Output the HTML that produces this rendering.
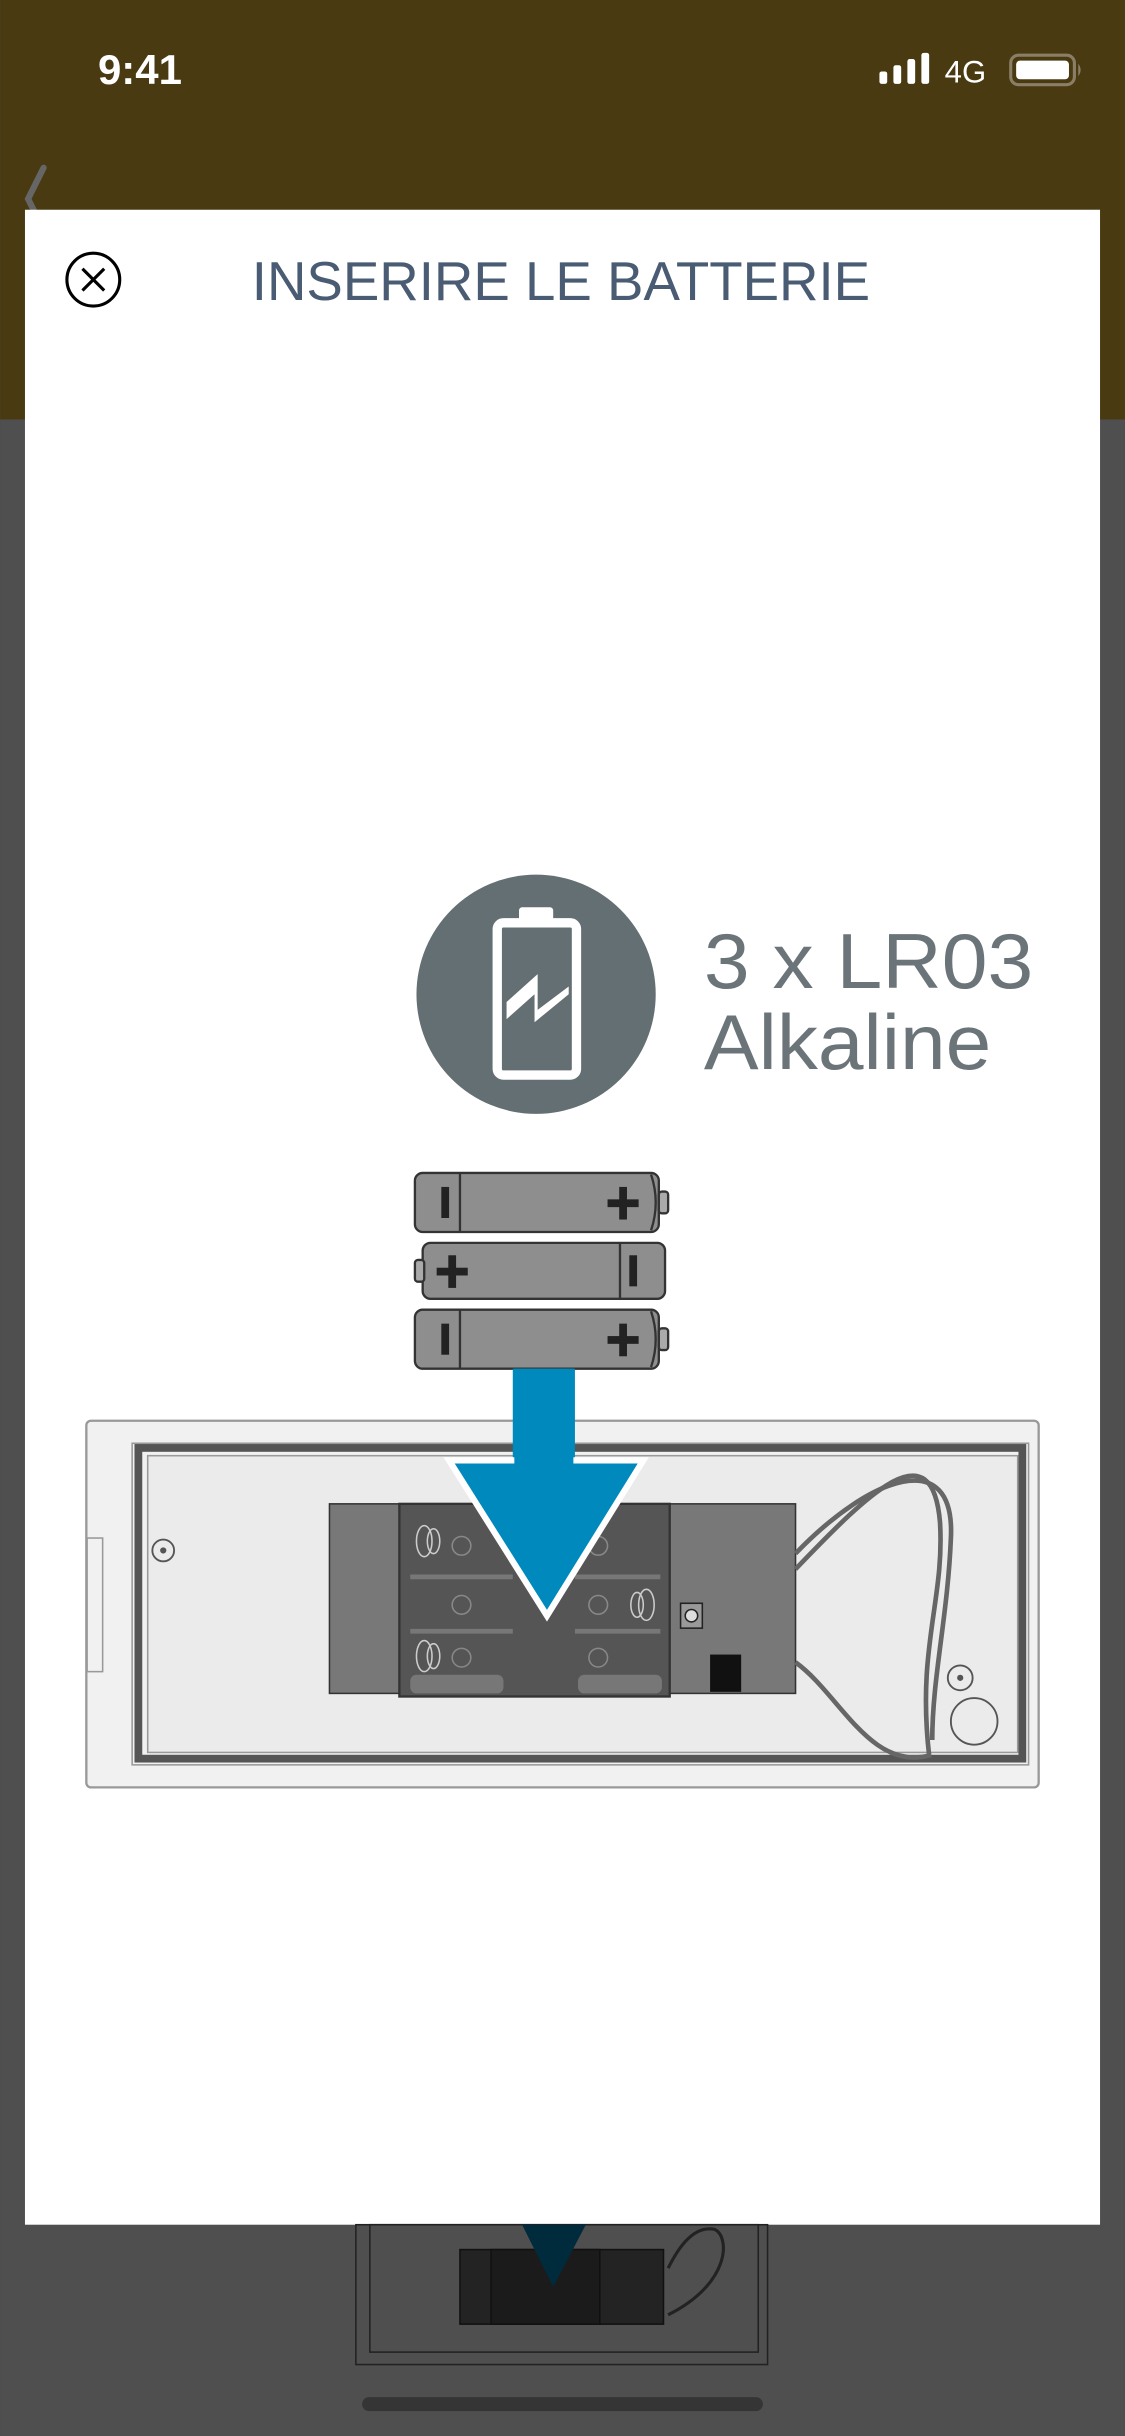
<!DOCTYPE html>
<html><head><meta charset="utf-8"><style>
html,body{margin:0;padding:0;background:#4f4f4f;}
svg{display:block;}
</style></head><body>
<svg width="1125" height="2436" viewBox="0 0 724 1568" xmlns="http://www.w3.org/2000/svg" font-family="Liberation Sans, sans-serif">
<rect x="0" y="0" width="724" height="1568" fill="#4f4f4f"/>
<rect x="0" y="0" width="724" height="270" fill="#4a3a11"/>
<text x="63" y="54" fill="#fff" font-size="27" font-weight="bold">9:41</text>
<rect x="566" y="46" width="5" height="8" rx="1.5" fill="#fff"/>
<rect x="575" y="42" width="5" height="12" rx="1.5" fill="#fff"/>
<rect x="584" y="38" width="5" height="16" rx="1.5" fill="#fff"/>
<rect x="593" y="34" width="5" height="20" rx="1.5" fill="#fff"/>
<text x="608" y="53" fill="#fff" font-size="20">4G</text>
<rect x="650.5" y="35.5" width="41" height="19" rx="5" fill="none" stroke="#8a7f66" stroke-width="2"/>
<rect x="654" y="39" width="34" height="12" rx="2.5" fill="#fff"/>
<path d="M694 41 q3 4 0 8 z" fill="#8a7f66"/>
<path d="M28 108 L18 128 L24 140" fill="none" stroke="#666" stroke-width="4" stroke-linecap="round"/>
<rect x="16" y="135" width="692" height="1297" fill="#fff"/>
<circle cx="60" cy="180" r="17" fill="none" stroke="#000" stroke-width="2"/>
<path d="M53 173 L67 187 M67 173 L53 187" stroke="#000" stroke-width="2"/>
<text x="361" y="193" text-anchor="middle" fill="#4a5c73" font-size="35" textLength="398" lengthAdjust="spacingAndGlyphs">INSERIRE LE BATTERIE</text>
<circle cx="345" cy="640" r="77" fill="#646f73"/>
<rect x="320" y="594" width="51" height="98" rx="4" fill="none" stroke="#fff" stroke-width="6"/>
<rect x="334" y="584" width="22" height="10" rx="2" fill="#fff"/>
<path d="M326 645 L346 627 L346 650 L366 635 L366 640 L344 658 L344 640 L326 656 Z" fill="#fff"/>
<text x="453" y="636" fill="#6b7579" font-size="50" textLength="212" lengthAdjust="spacingAndGlyphs">3 x LR03</text>
<text x="453" y="688" fill="#6b7579" font-size="50" textLength="185" lengthAdjust="spacingAndGlyphs">Alkaline</text>
<g stroke="#333" stroke-width="1.5">
<rect x="267" y="755" width="157" height="38" rx="5" fill="#8e8e8e"/>
<path d="M296 755 L296 793" /><path d="M419 756 q6 18 0 36" fill="#8e8e8e"/>
<rect x="424" y="767" width="6" height="14" rx="2" fill="#aaa"/>
<rect x="272" y="800" width="156" height="36" rx="5" fill="#8e8e8e"/>
<path d="M399 800 L399 836"/>
<rect x="267" y="811" width="6" height="14" rx="2" fill="#aaa"/>
<rect x="267" y="843" width="157" height="38" rx="5" fill="#8e8e8e"/>
<path d="M296 843 L296 881"/><path d="M419 844 q6 18 0 36" fill="#8e8e8e"/>
<rect x="424" y="855" width="6" height="14" rx="2" fill="#aaa"/>
</g>
<g fill="#222">
<rect x="284" y="764" width="5" height="20"/><rect x="391" y="772" width="20" height="5"/><rect x="398.5" y="764" width="5" height="21"/>
<rect x="405" y="808" width="5" height="20"/><rect x="281" y="816" width="20" height="5"/><rect x="288.5" y="808" width="5" height="21"/>
<rect x="284" y="852" width="5" height="20"/><rect x="391" y="860" width="20" height="5"/><rect x="398.5" y="852" width="5" height="21"/>
</g>
<rect x="55.5" y="914.5" width="613" height="236" rx="3" fill="#f1f1f1" stroke="#999" stroke-width="1.5"/>
<rect x="56" y="990" width="10" height="86" fill="#f1f1f1" stroke="#999" stroke-width="1"/>
<rect x="85" y="929" width="577" height="207" fill="none" stroke="#999" stroke-width="1"/>
<rect x="89" y="932" width="569" height="200" fill="none" stroke="#555" stroke-width="5"/>
<rect x="95" y="937" width="560" height="191" fill="#ebebeb" stroke="#999" stroke-width="1"/>
<circle cx="105" cy="998" r="7" fill="none" stroke="#555" stroke-width="1.2"/><circle cx="105" cy="998" r="2" fill="#555"/>
<rect x="212" y="968" width="300" height="122" fill="#787878" stroke="#333" stroke-width="1"/>
<rect x="257" y="968" width="174" height="124" fill="#555" stroke="#333" stroke-width="1.5"/>
<path d="M264 1015 L330 1015 M370 1015 L425 1015 M264 1050 L330 1050 M370 1050 L425 1050" stroke="#777" stroke-width="3"/>
<rect x="264" y="1078" width="60" height="12" rx="4" fill="#777"/><rect x="372" y="1078" width="54" height="12" rx="4" fill="#777"/>
<g fill="none" stroke="#888" stroke-width="1"><circle cx="297" cy="995" r="6"/><circle cx="297" cy="1033" r="6"/><circle cx="297" cy="1067" r="6"/><circle cx="385" cy="995" r="6"/><circle cx="385" cy="1033" r="6"/><circle cx="385" cy="1067" r="6"/></g>
<g fill="none" stroke="#ccc" stroke-width="1"><ellipse cx="273" cy="992" rx="5" ry="10"/><ellipse cx="279" cy="992" rx="4" ry="8"/><ellipse cx="273" cy="1066" rx="5" ry="10"/><ellipse cx="279" cy="1066" rx="4" ry="8"/><ellipse cx="416" cy="1033" rx="5" ry="10"/><ellipse cx="410" cy="1033" rx="4" ry="8"/></g>
<rect x="438" y="1032" width="14" height="16" fill="#999" stroke="#222"/><circle cx="445" cy="1040" r="4" fill="#ddd" stroke="#222"/>
<rect x="457" y="1065" width="20" height="24" fill="#111"/>
<g fill="none" stroke="#666" stroke-width="3">
<path d="M512 1010 C560 960 600 920 605 980 C608 1030 590 1060 598 1130 C560 1140 540 1090 512 1070"/>
<path d="M512 1000 C560 950 615 930 612 990 C610 1040 600 1080 600 1120"/>
</g>
<circle cx="618" cy="1080" r="8" fill="none" stroke="#555" stroke-width="1.2"/><circle cx="618" cy="1080" r="2" fill="#555"/>
<circle cx="627" cy="1108" r="15" fill="none" stroke="#555" stroke-width="1.2"/>
<rect x="330" y="881" width="40" height="62" fill="#0089bc"/>
<path d="M289 940 L414 940 L352 1040 Z" fill="#0089bc" stroke="#fff" stroke-width="4" stroke-linejoin="miter"/>
<rect x="331" y="881" width="38" height="62" fill="#0089bc"/>
<g stroke="#222" fill="none" stroke-width="1">
<rect x="229" y="1432" width="265" height="90" fill="none"/>
<rect x="238" y="1432" width="250" height="82"/>
</g>
<rect x="296" y="1448" width="131" height="48" fill="#232323" stroke="#111"/>
<rect x="316" y="1448" width="70" height="48" fill="#1b1b1b" stroke="#111"/>
<path d="M336 1432 L377 1432 L356 1472 Z" fill="#002b3c"/>
<path d="M430 1490 C470 1470 470 1440 460 1435 C445 1432 435 1450 430 1460" fill="none" stroke="#222" stroke-width="2"/>
<rect x="233" y="1543" width="258" height="9" rx="4.5" fill="#353535"/>
</svg>
</body></html>
